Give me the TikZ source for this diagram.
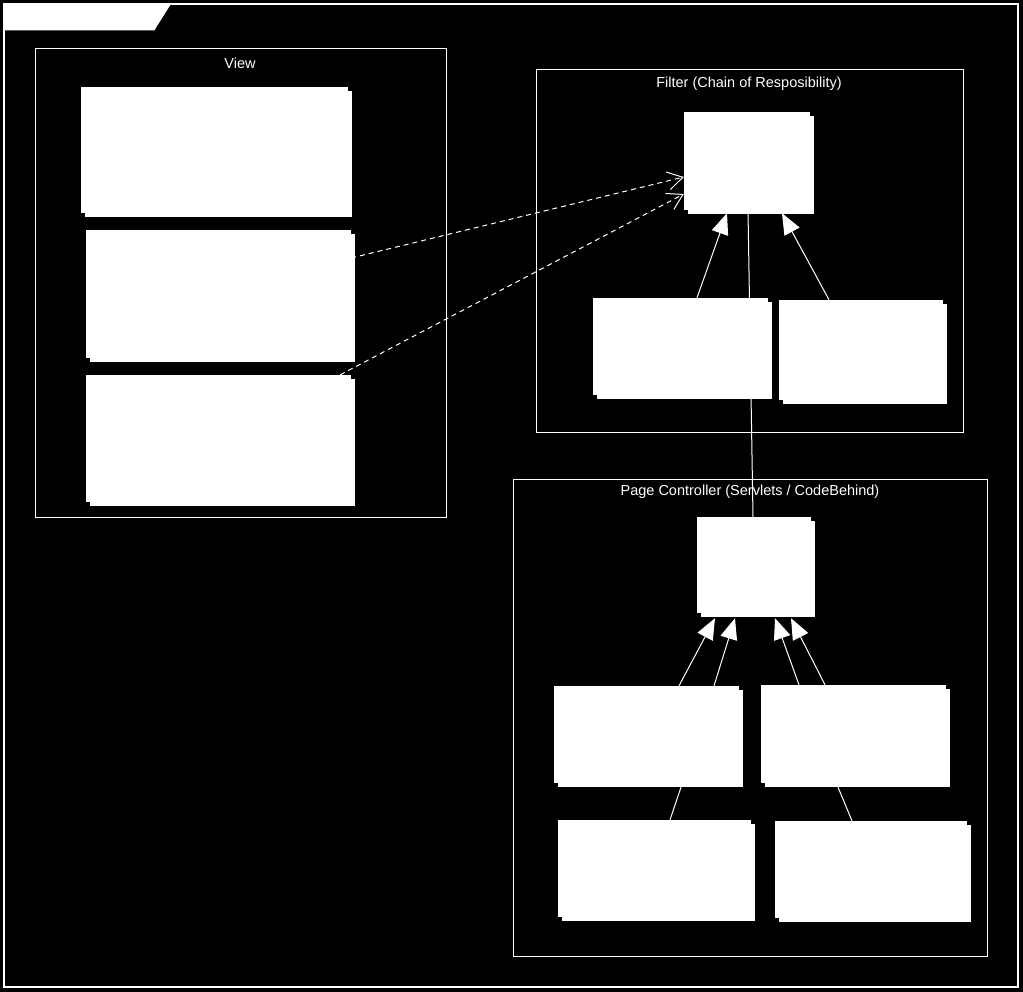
\documentclass[tikz,border=0pt]{standalone}
\usepackage{fontspec}
\setmainfont{Liberation Sans}
\usetikzlibrary{arrows.meta,shadows}
\pgfdeclarelayer{bg}
\pgfdeclarelayer{back}
\pgfsetlayers{back,bg,main}
\begin{document}
\begin{tikzpicture}[x=1pt,y=-1pt,
  cls/.style={fill=white,draw=none,inner sep=0pt,
    general shadow={fill=white,shadow xshift=3.5pt,shadow yshift=-4pt}},
  frm/.style={draw=white,line width=1pt,fill=none,inner sep=0pt},
  flabel/.style={text=white,font=\fontsize{14.5}{16}\selectfont,anchor=center},
  dep/.style={draw=white,line width=1pt,dash pattern=on 5pt off 4pt,
    -{Straight Barb[length=15pt,width=18pt,line width=1pt]}},
  gen/.style={draw=white,line width=1pt,
    -{Triangle[length=21pt,width=17pt,fill=white]}},
  assoc/.style={draw=white,line width=1pt}]
\begin{pgfonlayer}{back}
\fill[black] (0,0) rectangle (1023,992);
\end{pgfonlayer}
\useasboundingbox (0,0) rectangle (1023,992);
% outer frame and tab
\node[frm,line width=1.3pt,minimum width=1014pt,minimum height=983pt] (outer) at (511,495.5) {};
\fill[white] (outer.north west) -- ++(168,0) -- ++(-17,27) -- ++(-151,0) -- cycle;
% package frames
\node[frm,minimum width=411pt,minimum height=468pt] (viewf) at (240.5,283) {};
\node[flabel] (viewl) at (240,63) {View};
\node[frm,minimum width=427pt,minimum height=362pt] (filtf) at (749.5,251) {};
\node[flabel] (filtl) at (749,84) {Filter (Chain of Resposibility)};
\node[frm,minimum width=474pt,minimum height=477pt] (pcf) at (750,717.5) {};
\node[flabel] (pcl) at (750,492) {Page Controller (Servlets / CodeBehind)};
% View classes
\node[cls,minimum width=267pt,minimum height=126pt] (v1) at (214.5,150) {};
\node[cls,minimum width=265pt,minimum height=128pt] (v2) at (218.5,294) {};
\node[cls,minimum width=265pt,minimum height=127pt] (v3) at (218.5,438.5) {};
% Filter classes
\node[cls,minimum width=126pt,minimum height=98pt] (ft) at (747,161) {};
\node[cls,minimum width=175pt,minimum height=97pt] (fl) at (680.5,346.5) {};
\node[cls,minimum width=164pt,minimum height=100pt] (fr) at (861,350) {};
% Page controller classes
\node[cls,minimum width=114pt,minimum height=96pt] (pct) at (754,565) {};
\node[cls,minimum width=185pt,minimum height=97pt] (pcl1) at (646.5,734.5) {};
\node[cls,minimum width=185pt,minimum height=98pt] (pcr1) at (853.5,734) {};
\node[cls,minimum width=193pt,minimum height=97pt] (pcl2) at (654.5,868.5) {};
\node[cls,minimum width=192pt,minimum height=97pt] (pcr2) at (871,869.5) {};
% connectors (behind classes)
\begin{pgfonlayer}{bg}
\draw[dep] ([yshift=36pt]v2.east) -- ([yshift=-16pt]ft.west);
\draw[dep] ([xshift=-11pt]v3.north east) -- ([yshift=-33pt]ft.west);
\draw[gen] ([xshift=16.5pt]fl.north) -- ([xshift=-20pt,yshift=-3pt]ft.south);
\draw[gen] ([xshift=-32pt]fr.north) -- ([xshift=35pt,yshift=-3pt]ft.south);
\draw[assoc] ([xshift=1pt]ft.south) -- ([xshift=-1pt]pct.north);
\draw[gen] ([xshift=32.5pt]pcl1.north) -- ([xshift=-39pt,yshift=-5pt]pct.south);
\draw[gen] ([xshift=67.5pt]pcl1.north) -- ([xshift=-19pt,yshift=-5pt]pct.south);
\draw[gen] ([xshift=-54.5pt]pcr1.north) -- ([xshift=21pt,yshift=-5pt]pct.south);
\draw[gen] ([xshift=-28.5pt]pcr1.north) -- ([xshift=37pt,yshift=-5pt]pct.south);
\draw[assoc] ([xshift=15.5pt]pcl2.north) -- ([xshift=34.5pt,yshift=-4pt]pcl1.south);
\draw[assoc] ([xshift=-19pt]pcr2.north) -- ([xshift=-15.5pt,yshift=-4pt]pcr1.south);
\end{pgfonlayer}
\end{tikzpicture}
\end{document}
